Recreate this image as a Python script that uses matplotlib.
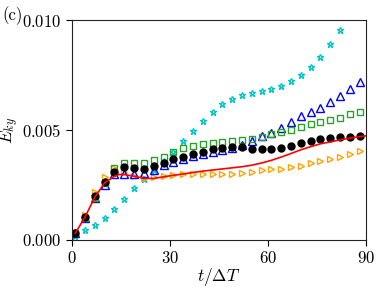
import numpy as np
import matplotlib
matplotlib.use("Agg")
from matplotlib import pyplot as plt

plt.rcParams['mathtext.fontset'] = 'cm'
plt.rcParams['font.family'] = 'serif'
plt.rcParams['font.serif'] = ['cmr10']
plt.rcParams['axes.formatter.use_mathtext'] = True

# marker positions (t / dT)
t = np.arange(1, 89, 3)

e_black = [0.0003, 0.00105, 0.0020, 0.00265, 0.0031, 0.0033, 0.00326, 0.00321, 0.00336, 0.00352,
           0.00367, 0.00379, 0.0039, 0.0040, 0.00412, 0.0042, 0.00424, 0.00424, 0.00412, 0.00412,
           0.00414, 0.0042, 0.00427, 0.0044, 0.0045, 0.00459, 0.00465, 0.00467, 0.0047, 0.00474]
e_green = [0.0003, 0.001, 0.0019, 0.0026, 0.00326, 0.00348, 0.00348, 0.00348, 0.00364, 0.00379,
           0.0040, 0.00417, 0.00427, 0.00435, 0.0044, 0.00445, 0.0045, 0.00455, 0.00459, 0.0047,
           0.0048, 0.0049, 0.0050, 0.00512, 0.00527, 0.00535, 0.00545, 0.00556, 0.00571, 0.00583]
e_blue = [0.0003, 0.001, 0.0019, 0.0025, 0.0030, 0.0030, 0.0030, 0.00306, 0.00318, 0.0034,
          0.00356, 0.00367, 0.0038, 0.0039, 0.0040, 0.0041, 0.0042, 0.0043, 0.0045, 0.00474,
          0.00485, 0.0051, 0.00538, 0.00564, 0.00583, 0.00602, 0.00626, 0.00656, 0.00686, 0.0072]
e_orange = [0.0003, 0.00114, 0.0022, 0.00288, 0.00326, 0.0031, 0.0029, 0.0028, 0.00285, 0.0029,
            0.00295, 0.0030, 0.0030, 0.0030, 0.0030, 0.0030, 0.0030, 0.00305, 0.0031, 0.00318,
            0.00321, 0.00323, 0.0033, 0.00338, 0.00349, 0.0036, 0.00368, 0.00376, 0.0039, 0.00403]

t_cyan = np.arange(1, 83, 3)
e_cyan = [0.0002, 0.00045, 0.00068, 0.001, 0.0014, 0.00186, 0.00235, 0.00278, 0.0032, 0.0036,
          0.0040, 0.0045, 0.00497, 0.0054, 0.0058, 0.00617, 0.00641, 0.00659, 0.00668, 0.00676,
          0.00685, 0.0070, 0.00723, 0.0075, 0.00788, 0.00833, 0.00891, 0.00955]

t_red = [1, 4, 7, 10, 13, 14.5, 16, 19, 22, 25, 28, 31, 34, 37, 40, 43, 46, 49, 52, 55, 58, 61,
         64, 67, 70, 73, 76, 79, 82, 85, 88, 90]
e_red = [0.0003, 0.00105, 0.00195, 0.0026, 0.0029, 0.00298, 0.00297, 0.0029, 0.0028, 0.0028,
         0.00287, 0.00294, 0.0030, 0.00307, 0.00313, 0.00318, 0.00323, 0.00328, 0.00333, 0.0034,
         0.0035, 0.00362, 0.00377, 0.00393, 0.0041, 0.00424, 0.00437, 0.00446, 0.00455, 0.00463,
         0.0047, 0.00474]

fig = plt.figure(figsize=(3.81, 2.87), dpi=100)
ax = fig.add_axes([0.189, 0.164, 0.772, 0.766])

ax.plot(t_cyan, e_cyan, ls='none', marker='*', ms=4.5, mfc='none', mec='#00c8c8', mew=1.0)
ax.plot(t, e_orange, ls='none', marker='>', ms=5, mfc='none', mec='orange', mew=1.0)
ax.plot(t, e_blue, ls='none', marker='^', ms=5.5, mfc='none', mec='blue', mew=1.0)
ax.plot(t, e_green, ls='none', marker='s', ms=5, mfc='none', mec='#2ca02c', mew=1.0)
ax.plot(t, e_black, ls='none', marker='o', ms=5, color='black')
ax.plot(t_red, e_red, color='red', lw=1.2)

ax.set_xlim(0, 90)
ax.set_ylim(0, 0.010)
ax.set_xticks([0, 30, 60, 90])
ax.set_xticklabels(['$0$', '$30$', '$60$', '$90$'])
ax.set_yticks([0, 0.005, 0.010])
ax.set_yticklabels(['$0.000$', '$0.005$', '$0.010$'])
ax.tick_params(labelsize=12, direction='out', length=4, top=False, right=False)
ax.set_xlabel(r'$t/\Delta T$', fontsize=12.5, labelpad=0)
ax.set_ylabel(r'$E_{ky}$', fontsize=12.5, labelpad=1)
for s in ax.spines.values():
    s.set_color('#222222')
fig.text(0.005, 0.93, '(c)', fontsize=12)

fig.savefig('out.png', dpi=100)
